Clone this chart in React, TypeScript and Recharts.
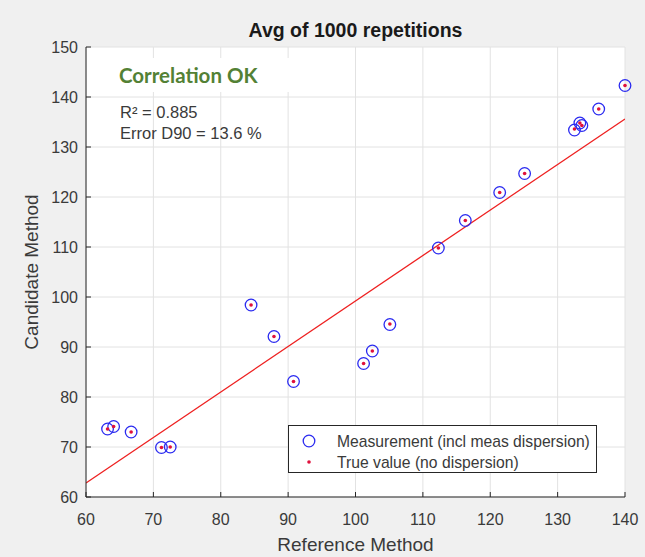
import React from 'react';
import { ScatterChart, Scatter, XAxis, YAxis, CartesianGrid, ReferenceLine } from 'recharts';

const xTicks = [60, 70, 80, 90, 100, 110, 120, 130, 140];
const yTicks = [60, 70, 80, 90, 100, 110, 120, 130, 140, 150];

const referenceValues = [63.2, 64.1, 66.7, 71.2, 72.5, 84.5, 87.9, 90.8, 101.2, 102.5, 105.1, 112.3, 116.3, 121.4, 125.1, 132.5, 133.3, 133.6, 136.1, 140.0];
const measuredValues = [73.6, 74.1, 73.0, 69.9, 70.0, 98.4, 92.1, 83.1, 86.7, 89.2, 94.5, 109.8, 115.3, 120.9, 124.7, 133.4, 134.8, 134.3, 137.6, 142.3];
const trueValues = [73.6, 74.1, 73.0, 69.9, 70.0, 98.4, 92.1, 83.1, 86.7, 89.2, 94.6, 109.8, 115.3, 120.9, 124.7, 133.6, 134.8, 134.3, 137.6, 142.3];

const fitLine = [
  { x: 60, y: 62.8 },
  { x: 140, y: 135.6 },
];

const titleText = 'Avg of 1000 repetitions';
const xLabel = 'Reference Method';
const yLabel = 'Candidate Method';
const statusText = 'Correlation OK';
const r2Text = 'R² = 0.885';
const errorText = 'Error D90 = 13.6 %';
const legendLabels = ['Measurement (incl meas dispersion)', 'True value (no dispersion)'];

const measData = referenceValues.map((x, i) => ({ x, y: measuredValues[i] }));
const trueData = referenceValues.map((x, i) => ({ x, y: trueValues[i] }));

const AX = '#262626';
const TXT = '#3a3a3a';
const FONT = '"Liberation Sans", Arial, sans-serif';

const BottomTick = (props: any) => {
  const { x, y, payload } = props;
  return (
    <g>
      <line x1={x} x2={x} y1={y} y2={y - 5} stroke={AX} strokeWidth={1} />
      <text x={x} y={y + 22} textAnchor="middle" dominantBaseline="central" fontSize={16} fill={TXT} fontFamily={FONT}>
        {payload.value}
      </text>
    </g>
  );
};

const TopTick = (props: any) => {
  const { x, y } = props;
  return <line x1={x} x2={x} y1={y} y2={y + 5} stroke={AX} strokeWidth={1} />;
};

const LeftTick = (props: any) => {
  const { x, y, payload } = props;
  return (
    <g>
      <line x1={x} x2={x + 5} y1={y} y2={y} stroke={AX} strokeWidth={1} />
      <text x={x - 8} y={y} textAnchor="end" dominantBaseline="central" fontSize={16} fill={TXT} fontFamily={FONT}>
        {payload.value}
      </text>
    </g>
  );
};

const RightTick = (props: any) => {
  const { x, y } = props;
  return <line x1={x} x2={x - 5} y1={y} y2={y} stroke={AX} strokeWidth={1} />;
};

const Circle = (props: any) => (
  <circle cx={props.cx} cy={props.cy} r={5.8} fill="none" stroke="#2b2bf0" strokeWidth={1.3} />
);
const Dot = (props: any) => <circle cx={props.cx} cy={props.cy} r={1.8} fill="#e0103c" />;

export default function App() {
  return (
    <div style={{ position: 'absolute', left: 0, top: 0, width: 645, height: 557, background: '#f0f0f0', fontFamily: FONT }}>
      <ScatterChart width={645} height={557} margin={{ top: 47, right: 20, bottom: 0, left: 0 }}>
        <CartesianGrid stroke="#e2e2e2" fill="#ffffff" />
        <XAxis
          xAxisId={0}
          dataKey="x"
          type="number"
          domain={[60, 140]}
          ticks={xTicks}
          height={60}
          tickSize={0}
          tickMargin={0}
          tick={<BottomTick />}
          axisLine={{ stroke: AX }}
          tickLine={false}
          label={{ value: xLabel, position: 'insideBottom', offset: 6, fontSize: 19, fill: TXT, fontFamily: FONT }}
        />
        <XAxis
          xAxisId="top"
          orientation="top"
          dataKey="x"
          type="number"
          domain={[60, 140]}
          ticks={xTicks}
          height={0}
          tickSize={0}
          tickMargin={0}
          tick={<TopTick />}
          axisLine={{ stroke: AX }}
          tickLine={false}
        />
        <YAxis
          yAxisId={0}
          dataKey="y"
          type="number"
          domain={[60, 150]}
          ticks={yTicks}
          width={86}
          tickSize={0}
          tickMargin={0}
          tick={<LeftTick />}
          axisLine={{ stroke: AX }}
          tickLine={false}
          label={{ value: yLabel, angle: -90, position: 'insideLeft', offset: 31, fontSize: 19, fill: TXT, fontFamily: FONT, style: { textAnchor: 'middle' } }}
        />
        <YAxis
          yAxisId="right"
          orientation="right"
          dataKey="y"
          type="number"
          domain={[60, 150]}
          ticks={yTicks}
          width={0}
          tickSize={0}
          tickMargin={0}
          tick={<RightTick />}
          axisLine={{ stroke: AX }}
          tickLine={false}
        />
        <ReferenceLine segment={fitLine} stroke="#ee2020" strokeWidth={1.3} ifOverflow="hidden" />
        <Scatter name={legendLabels[0]} data={measData} shape={<Circle />} isAnimationActive={false} />
        <Scatter name={legendLabels[1]} data={trueData} shape={<Dot />} isAnimationActive={false} />
      </ScatterChart>
      <svg width={645} height={557} style={{ position: 'absolute', left: 0, top: 0, pointerEvents: 'none' }}>
        <text x={355.5} y={30} textAnchor="middle" dominantBaseline="central" fontSize={19.5} fontWeight="bold" fill="#1a1a1a" fontFamily={FONT}>
          {titleText}
        </text>
        <rect x={100} y={58} width={200} height={34} fill="#ffffff" />
        <text x={119} y={75} dominantBaseline="central" fontSize={20.5} fontWeight="bold" fill="#538135" fontFamily="Lato, sans-serif">
          {statusText}
        </text>
        <text x={120} y={111.5} dominantBaseline="central" fontSize={16.5} fill={TXT} fontFamily={FONT}>
          {r2Text}
        </text>
        <text x={120} y={133} dominantBaseline="central" fontSize={16.5} fill={TXT} fontFamily={FONT}>
          {errorText}
        </text>
        <rect x={288.5} y={425.5} width={308} height={47} fill="#ffffff" stroke={AX} strokeWidth={1} />
        <circle cx={309} cy={441} r={5.8} fill="none" stroke="#2b2bf0" strokeWidth={1.3} />
        <circle cx={309} cy={462} r={1.8} fill="#e0103c" />
        <text x={337} y={441} dominantBaseline="central" fontSize={15.7} fill={TXT} fontFamily={FONT}>
          {legendLabels[0]}
        </text>
        <text x={337} y={462} dominantBaseline="central" fontSize={15.7} fill={TXT} fontFamily={FONT}>
          {legendLabels[1]}
        </text>
      </svg>
    </div>
  );
}
